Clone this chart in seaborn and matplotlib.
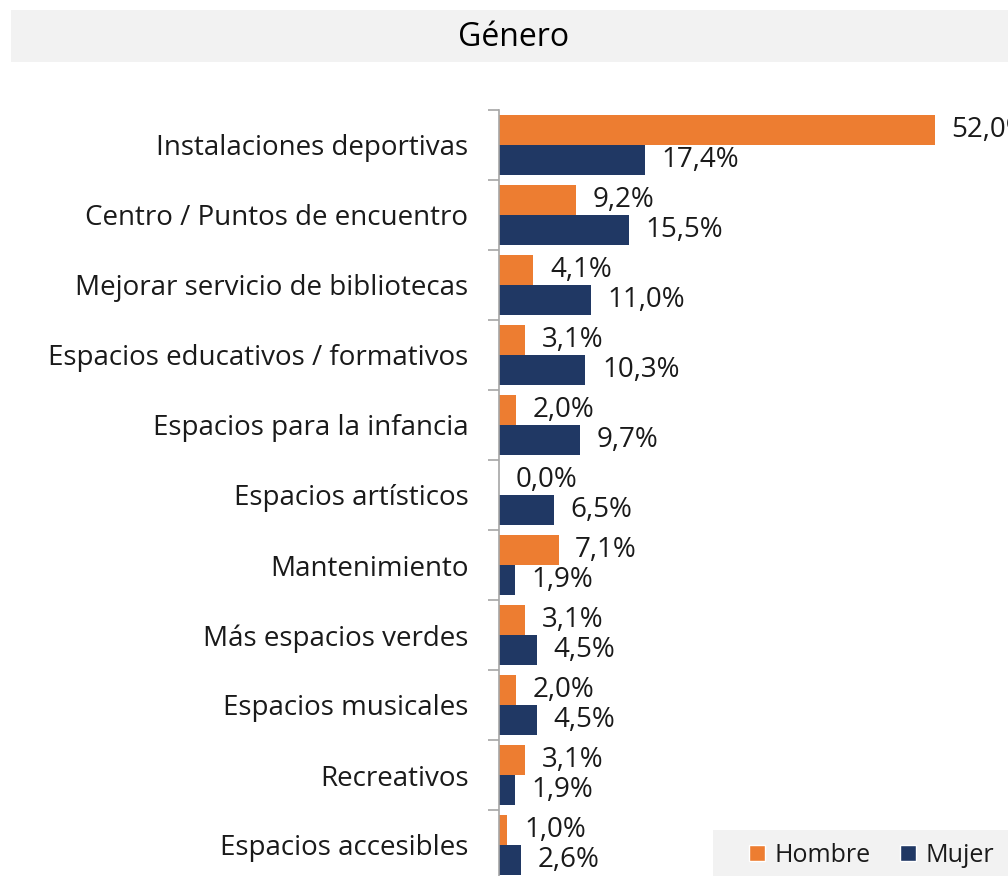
import matplotlib
matplotlib.use("Agg")
from matplotlib import pyplot as plt
from matplotlib.lines import Line2D
from matplotlib.patches import Rectangle
import pandas as pd
import seaborn as sns

categories = ["Instalaciones deportivas", "Centro / Puntos de encuentro",
              "Mejorar servicio de bibliotecas", "Espacios educativos / formativos",
              "Espacios para la infancia", "Espacios artísticos", "Mantenimiento",
              "Más espacios verdes", "Espacios musicales", "Recreativos",
              "Espacios accesibles"]
hombre = [52.0, 9.2, 4.1, 3.1, 2.0, 0.0, 7.1, 3.1, 2.0, 3.1, 1.0]
mujer = [17.4, 15.5, 11.0, 10.3, 9.7, 6.5, 1.9, 4.5, 4.5, 1.9, 2.6]
series = ["Hombre", "Mujer"]
colors = ["#ED7D31", "#203864"]

df = pd.DataFrame({
    "categoria": categories * 2,
    "valor": hombre + mujer,
    "genero": ["Hombre"] * len(categories) + ["Mujer"] * len(categories),
})

sns.set_theme(style="white")
plt.rcParams["font.family"] = ["Open Sans", "DejaVu Sans"]

W, H = 1008, 876
fig = plt.figure(figsize=(W / 100, H / 100), dpi=100)

# title bar
fig.patches.append(Rectangle((11 / W, 1 - 62 / H), 1 - 11 / W, 52 / H,
                             transform=fig.transFigure, facecolor="#F2F2F2",
                             edgecolor="none", zorder=0))
fig.text(514 / W, 1 - 38 / H, "Género", ha="center", va="center",
         fontsize=23, color="#000000")

ax = fig.add_axes([499 / W, (H - 880) / H, (W - 499) / W, 770 / H])
sns.barplot(data=df, y="categoria", x="valor", hue="genero",
            hue_order=series, palette=colors, order=categories,
            width=0.86, saturation=1, ax=ax, legend=False, linewidth=0)

# value labels (the first one runs off the right edge, as in the original)
for cont in ax.containers:
    labels = [f"{v:.1f}%".replace(".", ",") for v in cont.datavalues]
    ax.bar_label(cont, labels=labels, padding=12, fontsize=20, color="#1a1a1a")

ax.set_xlim(0, (W - 499) / 8.385)
ax.set_ylim(len(categories) - 0.5, -0.5)
ax.set_xlabel("")
ax.set_ylabel("")
ax.set_xticks([])
for s in ["top", "right", "bottom"]:
    ax.spines[s].set_visible(False)
ax.spines["left"].set_color("#A6A6A6")
ax.spines["left"].set_linewidth(1.2)
ax.tick_params(axis="y", which="major", length=0, pad=22, labelsize=20,
               labelcolor="#1a1a1a")
ax.set_yticks([i - 0.5 for i in range(len(categories) + 1)], minor=True)
ax.tick_params(axis="y", which="minor", length=8, width=1.2, color="#A6A6A6",
               left=True)

# legend box
fig.patches.append(Rectangle((713 / W, 0), 1 - 713 / W, 46 / H,
                             transform=fig.transFigure, facecolor="#F2F2F2",
                             edgecolor="none", zorder=3))
handles = [Line2D([], [], marker="s", linestyle="none", markersize=11,
                  markerfacecolor=c, markeredgecolor="white", markeredgewidth=1)
           for c in colors]
fig.legend(handles, series, loc="center", bbox_to_anchor=(868 / W, 1 - 855 / H),
           ncol=2, frameon=False, fontsize=18, handletextpad=0.1,
           columnspacing=0.9, handlelength=1.2, labelcolor="#1a1a1a")

fig.savefig("out.png", dpi=100)
